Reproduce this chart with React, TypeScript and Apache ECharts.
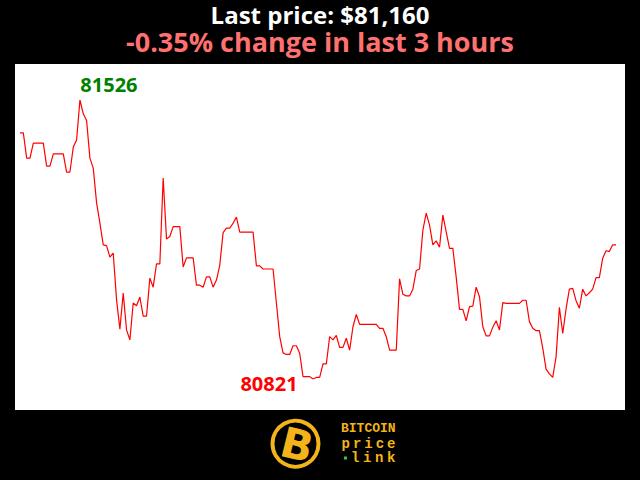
import { useEffect, useRef } from "react";
import * as echarts from "echarts";

const titleLine = "Last price: $81,160";
const changeLine = "-0.35% change in last 3 hours";

// one price per minute over the last 3 hours
const prices: number[] = [
  81443, 81443, 81379, 81379, 81417, 81417, 81417, 81417, 81359, 81359,
  81390, 81390, 81390, 81390, 81344, 81344, 81407, 81425, 81526, 81491,
  81474, 81379, 81354, 81266, 81215, 81160, 81158, 81129, 81139, 81021,
  80947, 81038, 80945, 80920, 81013, 81006, 81028, 80980, 80980, 81076,
  81053, 81112, 81112, 81329, 81175, 81181, 81206, 81206, 81206, 81104,
  81127, 81127, 81127, 81058, 81058, 81053, 81079, 81079, 81053, 81071,
  81109, 81191, 81202, 81202, 81215, 81230, 81192, 81192, 81192, 81192,
  81192, 81107, 81107, 81099, 81099, 81099, 81099, 81013, 80928, 80887,
  80883, 80883, 80905, 80905, 80886, 80827, 80827, 80827, 80821, 80825,
  80825, 80859, 80859, 80928, 80920, 80931, 80901, 80901, 80924, 80894,
  80953, 80984, 80959, 80959, 80959, 80959, 80959, 80959, 80949, 80949,
  80928, 80894, 80894, 80894, 81074, 81035, 81031, 81031, 81048, 81095,
  81099, 81197, 81240, 81210, 81160, 81170, 81154, 81235, 81193, 81151,
  81151, 81079, 80997, 80997, 80968, 81004, 81005, 81053, 81029, 80953,
  80930, 80930, 80952, 80968, 80945, 81014, 81012, 81012, 81012, 81012,
  81012, 81020, 81020, 80966, 80949, 80943, 80943, 80899, 80846, 80834,
  80825, 80877, 81002, 80936, 80998, 81048, 81050, 81019, 81000, 81048,
  81031, 81039, 81048, 81077, 81077, 81126, 81145, 81143, 81160, 81160,
];
const minutes: string[] = prices.map((_, i) => String(i));

const GOLD = "#f2b41a";

export default function App() {
  const ref = useRef<HTMLDivElement>(null);
  useEffect(() => {
    document.body.style.margin = "0";
    document.body.style.background = "#000";
    const chart = echarts.init(ref.current!, null, { renderer: "svg" });
    const priceLetters = "price".split("").map((ch, i) => ({
      type: "text",
      x: 341.5 + i * 11.4,
      y: 443.5,
      style: {
        text: ch,
        fill: GOLD,
        font: "bold 14px 'Liberation Mono', monospace",
        verticalAlign: "middle",
      },
    }));
    const linkLetters = "link".split("").map((ch, i) => ({
      type: "text",
      x: 351 + i * 12,
      y: 458,
      style: {
        text: ch,
        fill: GOLD,
        font: "bold 14px 'Liberation Mono', monospace",
        verticalAlign: "middle",
      },
    }));
    chart.setOption({
      animation: false,
      backgroundColor: "#000",
      grid: { left: 20, right: 24, top: 100, bottom: 101 },
      xAxis: {
        type: "category",
        data: minutes,
        boundaryGap: false,
        show: false,
      },
      yAxis: {
        type: "value",
        min: "dataMin",
        max: "dataMax",
        show: false,
      },
      graphic: [
        {
          type: "rect",
          z: -10,
          shape: { x: 15, y: 64, width: 610, height: 346 },
          style: { fill: "#fff" },
        },
        {
          type: "text",
          x: 320,
          y: 14.5,
          style: {
            text: titleLine,
            fill: "#fff",
            font: "bold 24px 'Open Sans'",
            align: "center",
            verticalAlign: "middle",
          },
        },
        {
          type: "text",
          x: 320,
          y: 41.5,
          style: {
            text: changeLine,
            fill: "#ff7070",
            font: "bold 27px 'Open Sans'",
            align: "center",
            verticalAlign: "middle",
          },
        },
        {
          type: "circle",
          shape: { cx: 295.5, cy: 443.7, r: 23 },
          style: { fill: "#000", stroke: GOLD, lineWidth: 4 },
        },
        {
          type: "text",
          x: 297,
          y: 445,
          rotation: -0.24,
          style: {
            text: "B",
            fill: GOLD,
            font: "bold 42px 'DejaVu Sans'",
            align: "center",
            verticalAlign: "middle",
          },
        },
        {
          type: "text",
          x: 341,
          y: 428.5,
          style: {
            text: "BITCOIN",
            fill: GOLD,
            font: "bold 13px 'Liberation Mono', monospace",
            verticalAlign: "middle",
          },
        },
        ...priceLetters,
        {
          type: "rect",
          shape: { x: 344, y: 456.5, width: 3, height: 3 },
          style: { fill: "#2ecc40" },
        },
        ...linkLetters,
      ],
      series: [
        {
          type: "line",
          data: prices,
          showSymbol: false,
          symbol: "none",
          lineStyle: { color: "#ff0000", width: 1.2 },
          markPoint: {
            symbol: "circle",
            symbolSize: 1,
            itemStyle: { color: "rgba(0,0,0,0)" },
            data: [
              {
                type: "max",
                label: {
                  show: true,
                  position: "inside",
                  offset: [29, -16],
                  formatter: "{c}",
                  color: "#008000",
                  fontFamily: "Open Sans",
                  fontWeight: "bold",
                  fontSize: 20,
                },
              },
              {
                type: "min",
                label: {
                  show: true,
                  position: "inside",
                  offset: [-44, 4.5],
                  formatter: "{c}",
                  color: "#ff0000",
                  fontFamily: "Open Sans",
                  fontWeight: "bold",
                  fontSize: 20,
                },
              },
            ],
          },
        },
      ],
    });
    return () => chart.dispose();
  }, []);
  return (
    <div
      ref={ref}
      style={{ position: "fixed", left: 0, top: 0, width: 640, height: 480 }}
    />
  );
}
